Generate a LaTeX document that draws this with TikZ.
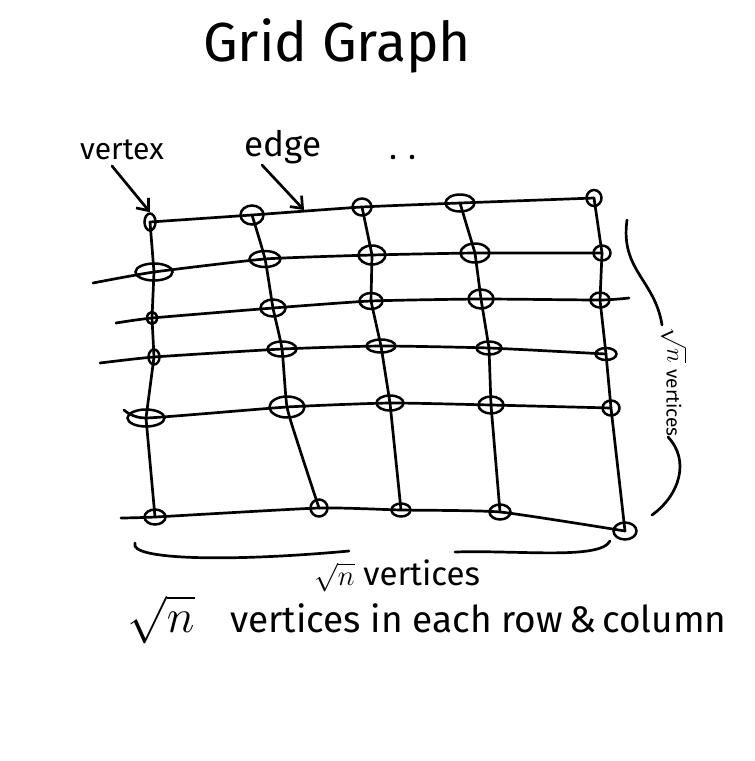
\documentclass[tikz,border=0pt]{standalone}
\usepackage{fontspec}
\usepackage{graphicx}
\setmainfont{Fira Sans}
\usetikzlibrary{arrows.meta,shapes.geometric}
\newcommand\vx[4]{\coordinate (v#1) at (#2);\node[vtx,minimum width=#3,minimum height=#4] (n#1) at (v#1) {};}
\newcommand\bigsq[1]{{\fontsize{24.88}{28}\selectfont\scalebox{#1}{$\sqrt{n}$}}}
\begin{document}
\begin{tikzpicture}[x=1pt,y=-1pt,
  pen/.style={line width=2.7pt, line cap=round, line join=round},
  vtx/.style={draw, ellipse, line width=2.5pt, inner sep=0pt},
  txt/.style={inner sep=0pt, text=black},
  arr/.style={pen, -{Straight Barb[length=10pt,width=16pt,line width=2.7pt]}}]
\useasboundingbox[fill=white] (0,0) rectangle (755,761);
% vertex centres
\vx{11}{150,222}{11}{17}
\vx{12}{252,215}{23}{19}
\vx{13}{362,207}{19}{17}
\vx{14}{460,203}{29}{17}
\vx{15}{594,198}{15}{16}
\vx{21}{154,272}{37}{17}
\vx{22}{265,259}{31}{16}
\vx{23}{372,255}{27}{19}
\vx{24}{475,253}{29}{19}
\vx{25}{602,253}{17}{15}
\vx{31}{152,318}{10}{12}
\vx{32}{273,308}{25}{17}
\vx{33}{371,301}{23}{16}
\vx{34}{481,299}{25}{19}
\vx{35}{600,300}{19}{15}
\vx{41}{154,357}{11}{15}
\vx{42}{282,349}{29}{15}
\vx{43}{381,346}{29}{13}
\vx{44}{489,348}{25}{13}
\vx{45}{606,354}{21}{12}
\vx{51}{146,418}{37}{17}
\vx{52}{287,407}{35}{21}
\vx{53}{390,403}{27}{15}
\vx{54}{491,405}{25}{17}
\vx{55}{611,408}{17}{15}
\vx{61}{155,517}{21}{15}
\vx{62}{319,508}{17}{17}
\vx{63}{401,510}{19}{13}
\vx{64}{500,512}{21}{15}
\vx{65}{625,531}{23}{17}
% free line ends
\coordinate (L2) at (93,283);
\coordinate (L3) at (116,323);
\coordinate (R3) at (629,298);
\coordinate (L4) at (100,363);
\coordinate (L5) at (124,410);
\coordinate (L6) at (121,518);
\coordinate (c2) at (300,450);
% rows
\draw[pen] plot[smooth,tension=0.3] coordinates {(v11) (v12) (v13) (v14) (v15)};
\draw[pen] plot[smooth,tension=0.3] coordinates {(L2) (v21) (v22) (v23) (v24) (v25)};
\draw[pen] plot[smooth,tension=0.3] coordinates {(L3) (v31) (v32) (v33) (v34) (v35) (R3)};
\draw[pen] plot[smooth,tension=0.3] coordinates {(L4) (v41) (v42) (v43) (v44) (v45)};
\draw[pen] plot[smooth,tension=0.3] coordinates {(L5) (v51) (v52) (v53) (v54) (v55)};
\draw[pen] plot[smooth,tension=0.3] coordinates {(L6) (v61) (v62) (v63) (v64) (v65)};
% columns
\draw[pen] (v11) -- (v21) -- (v31) -- (v41) -- (v51) -- (v61);
\draw[pen] plot[smooth,tension=0.3] coordinates {(v12) (v22) (v32) (v42) (v52) (c2) (v62)};
\draw[pen] (v13) -- (v23) -- (v33) -- (v43) -- (v53) -- (v63);
\draw[pen] (v14) -- (v24) -- (v34) -- (v44) -- (v54) -- (v64);
\draw[pen] (v15) -- (v25) -- (v35) -- (v45) -- (v55) -- (v65);
% title and labels
\node[txt, font=\fontsize{55}{60}\selectfont] (title) at (337,46) {Grid Graph};
\node[txt, font=\fontsize{30}{32}\selectfont] (lvertex) at (122,150) {vertex};
\node[txt, font=\fontsize{35}{38}\selectfont] (ledge) at (283,147) {edge};
\coordinate (d1) at (393,157);
\coordinate (d2) at (412,157);
\fill (d1) circle (2.3pt);
\fill (d2) circle (2.3pt);
\coordinate (a1) at (112,166);
\draw[arr] (a1) -- (n11.north);
\coordinate (e1) at (262,165);
\coordinate (e2) at (304,210);
\draw[arr] (e1) -- (e2);
% right brace
\coordinate (rb1) at (627,220);
\coordinate (rb2) at (662,325);
\coordinate (rb3) at (668,437);
\coordinate (rb4) at (652,515);
\draw[pen] (rb1) .. controls (620,270) and (655,280) .. (rb2);
\draw[pen] (rb3) .. controls (690,460) and (680,495) .. (rb4);
\node[txt, rotate=-90] (rsq) at (674,345) {\bigsq{1}};
\node[txt, rotate=-90, font=\fontsize{19}{20}\selectfont] (rvert) at (674,403) {vertices};
% bottom brace
\coordinate (bb1) at (135,543);
\coordinate (bb2) at (349,551);
\coordinate (bb3) at (455,552);
\coordinate (bb4) at (610,541);
\draw[pen] (bb1) .. controls (128,560) and (230,562) .. (bb2);
\draw[pen] (bb3) .. controls (520,550) and (600,560) .. (bb4);
\node[txt, font=\fontsize{33}{36}\selectfont, anchor=base] (bvert) at (397,585) {\bigsq{1.15} vertices};
\node[txt, anchor=base] (notesq) at (161,632) {\bigsq{1.9}};
\node[txt, font=\fontsize{37}{40}\selectfont, anchor=base west] (note) at (230,632) {vertices in each row\,\&\,column};
\end{tikzpicture}
\end{document}
